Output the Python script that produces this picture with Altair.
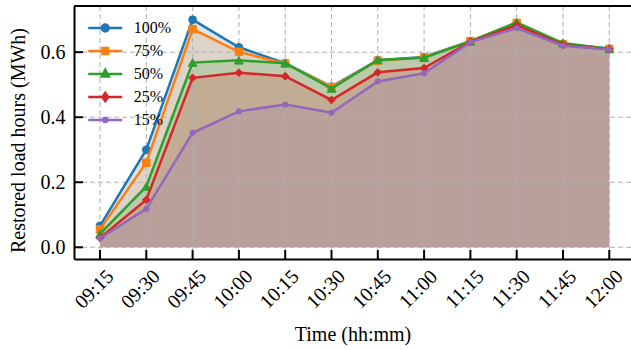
import json
import altair as alt
import pandas as pd

times = ["09:15", "09:30", "09:45", "10:00", "10:15", "10:30",
         "10:45", "11:00", "11:15", "11:30", "11:45", "12:00"]
series_names = ["100%", "75%", "50%", "25%", "15%"]
p100 = [0.066, 0.300, 0.700, 0.615, 0.566, 0.494, 0.575, 0.585, 0.634, 0.688, 0.625, 0.611]
p75 = [0.055, 0.260, 0.671, 0.601, 0.565, 0.493, 0.574, 0.584, 0.634, 0.690, 0.625, 0.610]
p50 = [0.041, 0.187, 0.568, 0.575, 0.566, 0.488, 0.576, 0.583, 0.633, 0.692, 0.628, 0.610]
p25 = [0.029, 0.146, 0.521, 0.537, 0.526, 0.453, 0.538, 0.551, 0.632, 0.683, 0.622, 0.609]
p15 = [0.028, 0.118, 0.352, 0.418, 0.439, 0.414, 0.510, 0.535, 0.631, 0.674, 0.620, 0.608]
y_ticks = [0.0, 0.2, 0.4, 0.6]

colors = ["#1f77b4", "#ff7f0e", "#2ca02c", "#d62728", "#9467bd"]
marker_shapes = ["circle", "square", "triangle-up", "diamond", "circle"]
marker_sizes = [60, 55, 75, 60, 28]
legend_paths = [
    "M-1,0L1,0M0.2,0A0.2,0.2,0,1,1,-0.2,0A0.2,0.2,0,1,1,0.2,0Z",
    "M-1,0L1,0M-0.17,-0.17L0.17,-0.17L0.17,0.17L-0.17,0.17Z",
    "M-1,0L1,0M0,-0.24L0.21,0.15L-0.21,0.15Z",
    "M-1,0L1,0M0,-0.24L0.17,0L0,0.24L-0.17,0Z",
    "M-1,0L1,0M0.12,0A0.12,0.12,0,1,1,-0.12,0A0.12,0.12,0,1,1,0.12,0Z",
]

values = [p100, p75, p50, p25, p15]
rows = []
for name, vals in zip(series_names, values):
    for i, (t, v) in enumerate(zip(times, vals)):
        rows.append({"series": name, "idx": i, "time": t, "value": v})
df = pd.DataFrame(rows)
xt_df = pd.DataFrame({"idx": list(range(len(times)))})
yt_df = pd.DataFrame({"value": y_ticks})

W, H = 557, 253
FONT = "Liberation Serif"

x_scale = alt.Scale(domain=[-0.5616, 11.469], nice=False, zero=False)
y_scale = alt.Scale(domain=[-0.036, 0.742], nice=False, zero=False)
x_axis = alt.Axis(values=list(range(len(times))), labelExpr=json.dumps(times) + "[datum.value]",
                  labelAngle=315, labelAlign="center", labelBaseline="middle",
                  labelPadding=30, labelOffset=-6, labelOverlap=False, labelFlush=False,
                  title="Time (hh:mm)", titlePadding=12, ticks=False, tickSize=0, grid=False)
y_axis = alt.Axis(values=y_ticks, format=".1f", labelPadding=9, labelOverlap=False, labelFlush=False,
                  title="Restored load hours (MWh)", titlePadding=12, titleY=134,
                  ticks=False, tickSize=0, grid=False)


def X():
    return alt.X("idx:Q", scale=x_scale, axis=x_axis)


def Y():
    return alt.Y("value:Q", scale=y_scale, axis=y_axis)


layers = []
# filled areas
for name, col in zip(series_names, colors):
    layers.append(
        alt.Chart(df).transform_filter(alt.datum.series == name)
        .mark_area(opacity=0.18, color=col)
        .encode(x=X(), y=alt.Y("value:Q", scale=y_scale, axis=y_axis, stack=None), y2=alt.datum(0))
    )

grid_style = dict(color="#b0b0b0", strokeWidth=1, strokeDash=[5, 3])
layers.append(alt.Chart(xt_df).mark_rule(**grid_style).encode(x=X()))
layers.append(alt.Chart(yt_df).mark_rule(**grid_style).encode(y=Y()))

# lines + markers
for name, col, shp, sz in zip(series_names, colors, marker_shapes, marker_sizes):
    base = alt.Chart(df).transform_filter(alt.datum.series == name)
    layers.append(base.mark_line(color=col, strokeWidth=2.5).encode(x=X(), y=Y()))
    layers.append(base.mark_point(filled=True, shape=shp, size=sz, color=col, opacity=1,
                                  stroke=col, strokeWidth=1).encode(x=X(), y=Y()))

# inward ticks
layers.append(alt.Chart(xt_df).mark_rule(color="black", strokeWidth=2).encode(
    x=X(), y=alt.value(H - 9), y2=alt.value(H)))
layers.append(alt.Chart(yt_df).mark_rule(color="black", strokeWidth=2).encode(
    y=Y(), x=alt.value(0), x2=alt.value(9)))
# top spine
layers.append(alt.Chart(yt_df.head(1)).mark_rule(color="black", strokeWidth=2).encode(
    y=alt.value(0), x=alt.value(0), x2=alt.value(W)))

# legend layer (no marks drawn, legend only)
leg_def = alt.Legend(title=None, orient="none", legendX=12.75, legendY=10.75, padding=0,
                     clipHeight=22.5, rowPadding=0, symbolSize=1156, symbolStrokeWidth=2.5,
                     symbolOpacity=1, labelFont=FONT, labelFontSize=16, labelColor="black",
                     labelOffset=10)
layers.append(
    alt.Chart(df).transform_filter("false")
    .mark_point(filled=True, opacity=1, strokeWidth=2.5, size=1156)
    .encode(
        x=X(), y=Y(),
        fill=alt.Fill("series:N", scale=alt.Scale(domain=series_names, range=colors), legend=leg_def),
        stroke=alt.Stroke("series:N", scale=alt.Scale(domain=series_names, range=colors), legend=leg_def),
        shape=alt.Shape("series:N", scale=alt.Scale(domain=series_names, range=legend_paths), legend=leg_def),
    )
)

chart = (
    alt.layer(*layers)
    .properties(width=W, height=H,
                padding={"left": 74, "top": 6, "right": 0, "bottom": 91},
                autosize=alt.AutoSizeParams(type="none"))
    .configure_view(stroke="transparent")
    .configure_axis(labelFont=FONT, labelFontSize=20, labelColor="black",
                    titleFont=FONT, titleFontSize=20, titleColor="black", titleFontWeight="normal",
                    domainColor="black", domainWidth=2)
    .configure_legend(labelFont=FONT, labelFontSize=16, labelColor="black")
)

chart.save("out.html", embed_options={"renderer": "svg", "actions": False})
